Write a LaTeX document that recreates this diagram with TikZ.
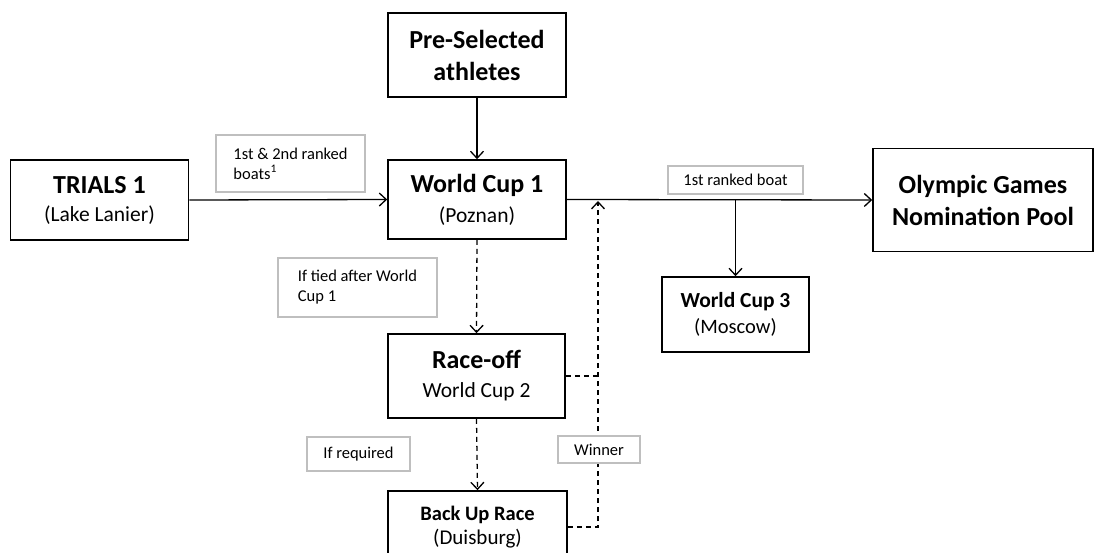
\documentclass[tikz,border=0pt]{standalone}
\usepackage{fontspec}
\setmainfont{Carlito}
\usetikzlibrary{arrows.meta}
\definecolor{lblgray}{RGB}{191,191,191}
\newcommand{\fbig}{\fontsize{26}{31}\selectfont}
\newcommand{\fmid}{\fontsize{21.5}{29}\selectfont}
\newcommand{\fsmall}{\fontsize{16.5}{20}\selectfont}
\tikzset{
  box/.style={draw=black, line width=1.6pt, fill=white, align=center, inner sep=0pt},
  lbl/.style={draw=lblgray, line width=1.6pt, fill=white, align=left, inner sep=0pt, font=\fsmall},
  conn/.style={line width=1.3pt, -{Straight Barb[length=7pt,width=13pt,line width=1.3pt]}},
  dconn/.style={line width=1.3pt, dash pattern=on 5pt off 4pt},
}
\begin{document}
\begin{tikzpicture}[x=1pt,y=-1pt]
\useasboundingbox (0,0) rectangle (1094,553);
% boxes
\node[box, minimum width=178, minimum height=84, font=\fontsize{26}{32}\selectfont\bfseries] (pre) at (477,55)
  {Pre-Selected\\ athletes};
\node[box, minimum width=178, minimum height=80, font=\fontsize{26}{28}\selectfont] (trials) at (99.5,200)
  {{\bfseries TRIALS 1}\\ {\fmid (Lake Lanier)}};
\node[box, minimum width=178, minimum height=79, font=\fontsize{26}{30}\selectfont] (wc1) at (477,199.5)
  {{\bfseries World Cup 1}\\ {\fmid (Poznan)}};
\node[box, minimum width=220, minimum height=103, font=\fontsize{26}{32}\selectfont\bfseries] (oly) at (983,200)
  {Olympic Games\\ Nomination Pool};
\node[box, minimum width=147, minimum height=75, font=\fontsize{21.5}{26}\selectfont] (wc3) at (735.5,314.5)
  {{\bfseries World Cup 3}\\ {\fontsize{20.5}{26}\selectfont (Moscow)}};
\node[box, minimum width=177, minimum height=84, font=\fontsize{26}{29}\selectfont] (race) at (476.5,376)
  {{\bfseries Race-off}\\ {\fmid World Cup 2}};
\node[box, minimum width=179, minimum height=72, font=\fontsize{20.5}{24.5}\selectfont] (backup) at (477.5,527)
  {{\bfseries Back Up Race}\\ {\fontsize{21}{25}\selectfont (Duisburg)}};
% coordinates
\coordinate (j) at (wc3.north |- wc1.east);
\coordinate (w) at (598,201);
% connectors
\draw[conn] (pre.south) -- (wc1.north);
\draw[conn] (trials.east) -- (wc1.west);
\draw[conn] (wc1.east) -- (oly.west);
\draw[conn] (j) -- (wc3.north);
\draw[dconn, -{Straight Barb[length=7pt,width=13pt,line width=1.3pt]}] (wc1.south) -- (race.north);
\draw[dconn, -{Straight Barb[length=7pt,width=13pt,line width=1.3pt]}] (race.south) -- (backup.north);
\draw[dconn, -{Straight Barb[length=7pt,width=13pt,line width=1.3pt]}] (backup.east) -| (w);
\draw[dconn] (race.east) -- (race.east -| w);
% labels
\node[lbl, minimum width=149, minimum height=57] (l12) at (290.5,163.5)
  {1st \& 2nd ranked\\ boats\textsuperscript{1}};
\node[lbl, minimum width=135, minimum height=28] (l1) at (735.5,180) {1st ranked boat};
\node[lbl, minimum width=159, minimum height=59] (ltied) at (357.5,287.5)
  {If tied after World\\ Cup 1};
\node[lbl, minimum width=103, minimum height=34] (lreq) at (358.5,454) {If required};
\node[lbl, minimum width=82, minimum height=27] (lwin) at (599,449.5) {Winner};
\end{tikzpicture}
\end{document}
